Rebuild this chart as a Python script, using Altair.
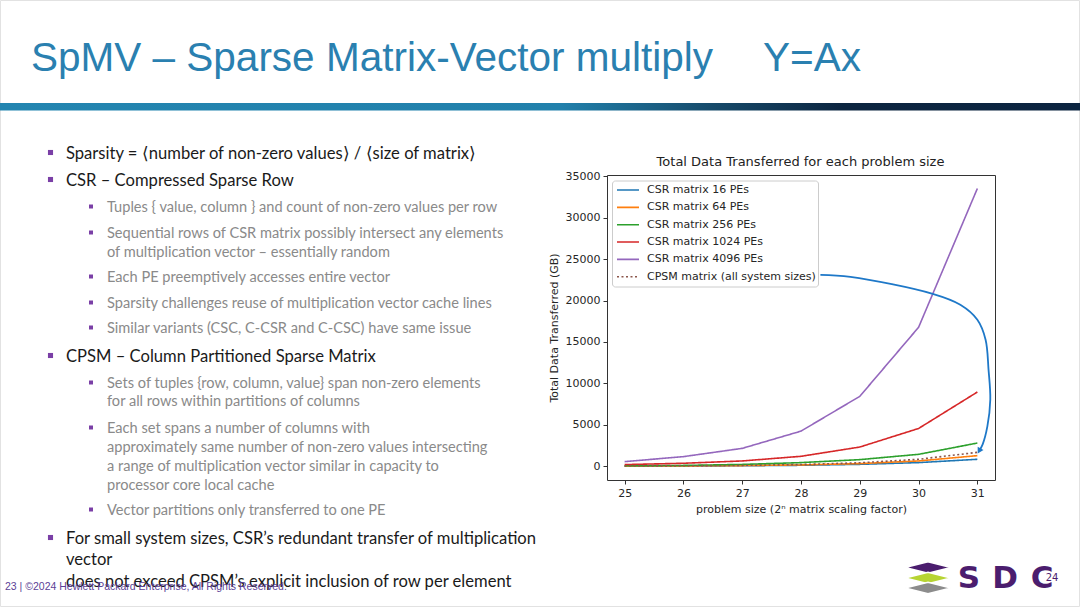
import altair as alt
import pandas as pd

# ---------------- data ----------------
problem_size = [25, 26, 27, 28, 29, 30, 31]
csr_16 = [15, 30, 60, 115, 230, 440, 840]
csr_64 = [20, 40, 80, 160, 320, 640, 1280]
csr_256 = [50, 100, 220, 440, 800, 1440, 2800]
csr_1024 = [200, 360, 640, 1200, 2320, 4560, 8960]
csr_4096 = [560, 1160, 2160, 4240, 8440, 16770, 33530]
cpsm = [27, 55, 105, 210, 420, 840, 1680]

series_names = ["CSR matrix 16 PEs", "CSR matrix 64 PEs", "CSR matrix 256 PEs",
                "CSR matrix 1024 PEs", "CSR matrix 4096 PEs", "CPSM matrix (all system sizes)"]
series_values = [csr_16, csr_64, csr_256, csr_1024, csr_4096, cpsm]
series_colors = ["#1f77b4", "#ff7f0e", "#2ca02c", "#d62728", "#9467bd", "#8c564b"]
series_dash = [[1, 0], [1, 0], [1, 0], [1, 0], [1, 0], [2, 2.5]]

y_ticks = [0, 5000, 10000, 15000, 20000, 25000, 30000, 35000]

# annotation arrow drawn on the slide (in data units)
arrow_x = [28.33, 28.84, 30.24, 30.71, 31.00, 31.14, 31.19, 31.22, 31.17, 31.09, 31.03]
arrow_y = [23100, 22860, 20810, 19490, 17680, 15280, 11670, 8060, 4810, 2650, 1850]

slide_title = "SpMV – Sparse Matrix-Vector multiply"
slide_title2 = "Y=Ax"
chart_title = "Total Data Transferred for each problem size"
x_title = "problem size (2ⁿ matrix scaling factor)"
y_title = "Total Data Transferred (GB)"
footer = "23 | ©2024 Hewlett Packard Enterprise, All Rights Reserved."

body_lines = [
    "Sparsity = ⟨number of non-zero values⟩ / ⟨size of matrix⟩",
    "CSR – Compressed Sparse Row",
    "Tuples { value, column } and count of non-zero values per row",
    "Sequential rows of CSR matrix possibly intersect any elements",
    "of multiplication vector – essentially random",
    "Each PE preemptively accesses entire vector",
    "Sparsity challenges reuse of multiplication vector cache lines",
    "Similar variants (CSC, C-CSR and C-CSC) have same issue",
    "CPSM – Column Partitioned Sparse Matrix",
    "Sets of tuples {row, column, value} span non-zero elements",
    "for all rows within partitions of columns",
    "Each set spans a number of columns with",
    "approximately same number of non-zero values intersecting",
    "a range of multiplication vector similar in capacity to",
    "processor core local cache",
    "Vector partitions only transferred to one PE",
    "For small system sizes, CSR’s redundant transfer of multiplication",
    "vector",
    "does not exceed CPSM’s explicit inclusion of row per element",
]
body_level = [1, 1, 2, 2, 2, 2, 2, 2, 1, 2, 2, 2, 2, 2, 2, 2, 1, 1, 1]
body_bullet = [1, 1, 1, 1, 0, 1, 1, 1, 1, 1, 0, 1, 0, 0, 0, 1, 1, 0, 0]

# ---------------- layout (page pixels) ----------------
PL, PT, PW, PH = 607, 175, 388, 305          # matplotlib axes frame on the page
body_y = [154, 181, 208, 234, 253, 278, 304, 329, 357, 384, 402, 429, 448, 467, 486, 511, 539, 560, 582]
text_x = {1: 66, 2: 107}
bullet_x = {1: 50.5, 2: 91}
legend_row_y0, legend_row_dy = 190, 17.35


def rel(df):
    df = df.copy()
    for c in ("x", "x2"):
        if c in df:
            df[c] = df[c] - PL
    for c in ("y", "y2"):
        if c in df:
            df[c] = df[c] - PT
    return df


def px(field):
    return alt.X(f"{field}:Q", scale=None, axis=None)


def py(field):
    return alt.Y(f"{field}:Q", scale=None, axis=None)


def text_layer(df, font, size, color, weight="normal", align="left", baseline="middle"):
    return alt.Chart(rel(df)).mark_text(
        font=font, fontSize=size, color=color, fontWeight=weight, align=align, baseline=baseline
    ).encode(x=px("x"), y=py("y"), text="text:N")


# ---------------- main chart ----------------
rows = []
for name, vals in zip(series_names, series_values):
    for p, v in zip(problem_size, vals):
        rows.append({"series": name, "problem_size": p, "value": v})
lines_df = pd.DataFrame(rows)

x_enc = alt.X("problem_size:Q",
              scale=alt.Scale(domain=[24.7, 31.3], nice=False, zero=False),
              axis=alt.Axis(values=problem_size, format="d", title=x_title, grid=False, domain=False,
                            tickSize=4, tickColor="#333", labelPadding=3, labelFont="DejaVu Sans",
                            labelFontSize=11, labelColor="#262626", titleFont="DejaVu Sans",
                            titleFontSize=11, titleFontWeight="normal", titleColor="#262626",
                            titlePadding=5))
y_enc = alt.Y("value:Q",
              scale=alt.Scale(domain=[-1660, 35160], nice=False, zero=False),
              axis=alt.Axis(values=y_ticks, format="d", title=y_title, grid=False, domain=False,
                            tickSize=4, tickColor="#333", labelPadding=3, labelFont="DejaVu Sans",
                            labelFontSize=11, labelColor="#262626", titleFont="DejaVu Sans",
                            titleFontSize=11, titleFontWeight="normal", titleColor="#262626",
                            titlePadding=6))
color_scale = alt.Scale(domain=series_names, range=series_colors)
dash_scale = alt.Scale(domain=series_names, range=series_dash)

lines = alt.Chart(lines_df).mark_line(strokeWidth=1.6).encode(
    x=x_enc, y=y_enc,
    color=alt.Color("series:N", scale=color_scale, legend=None),
    strokeDash=alt.StrokeDash("series:N", scale=dash_scale, legend=None),
    detail="series:N",
)

# legend (drawn by hand to mimic matplotlib's box)
leg_box = alt.Chart(rel(pd.DataFrame([{"x": 612.5, "x2": 818.5, "y": 181, "y2": 287}]))).mark_rect(
    fill="white", fillOpacity=0.85, stroke="#cccccc", strokeWidth=1, cornerRadius=3
).encode(x=px("x"), x2="x2:Q", y=py("y"), y2="y2:Q")
leg_df = pd.DataFrame({"series": series_names,
                       "x": [617] * 6, "x2": [639] * 6,
                       "y": [legend_row_y0 + i * legend_row_dy for i in range(6)]})
leg_df["text"] = leg_df["series"]
leg_sw = alt.Chart(rel(leg_df)).mark_rule(strokeWidth=1.6).encode(
    x=px("x"), x2="x2:Q", y=py("y"),
    color=alt.Color("series:N", scale=color_scale, legend=None),
    strokeDash=alt.StrokeDash("series:N", scale=dash_scale, legend=None),
)
leg_lab = text_layer(leg_df.assign(x=647), "DejaVu Sans", 11, "#262626")

arrow_df = pd.DataFrame({"problem_size": arrow_x, "value": arrow_y, "i": range(len(arrow_x))})
arrow = alt.Chart(arrow_df).mark_line(color="#1e78c8", strokeWidth=1.8, interpolate="catmull-rom").encode(
    x=x_enc, y=y_enc, order="i:Q")
arrow_head = alt.Chart(arrow_df.tail(1)).mark_point(
    shape="triangle-down", filled=True, color="#1e78c8", size=45, angle=30, opacity=1
).encode(x=x_enc, y=y_enc)

ctitle = text_layer(pd.DataFrame([{"text": chart_title, "x": 800.5, "y": 162}]),
                    "DejaVu Sans", 13, "#222222", align="center")

# ---------------- slide decoration ----------------
frame = alt.Chart(rel(pd.DataFrame([{"x": 0.5, "x2": 1079.5, "y": 0.5, "y2": 606.5}]))).mark_rect(
    fill="white", fillOpacity=0, stroke="#e2e2e2", strokeWidth=1
).encode(x=px("x"), x2="x2:Q", y=py("y"), y2="y2:Q")

bar = alt.Chart(rel(pd.DataFrame([{"x": 0, "x2": 1080, "y": 103, "y2": 110.5}]))).mark_rect(
    fill=alt.Gradient(gradient="linear", x1=0, x2=1, y1=0, y2=0,
                      stops=[alt.GradientStop(color="#2385b0", offset=0),
                             alt.GradientStop(color="#2180ab", offset=0.52),
                             alt.GradientStop(color="#164a6a", offset=0.66),
                             alt.GradientStop(color="#0c2540", offset=0.78),
                             alt.GradientStop(color="#0b2440", offset=1)])
).encode(x=px("x"), x2="x2:Q", y=py("y"), y2="y2:Q")

title_l = text_layer(pd.DataFrame([{"text": slide_title, "x": 31, "y": 71},
                                   {"text": slide_title2, "x": 763, "y": 71}]),
                     "Liberation Sans", 40.5, "#2a80b0", baseline="alphabetic")

body_df = pd.DataFrame({"text": body_lines, "level": body_level, "bullet": body_bullet, "y": body_y})
body_df["x"] = body_df["level"].map(text_x)
l1 = text_layer(body_df[body_df.level == 1], "Lato", 16.6, "#1a1a1a")
l2 = text_layer(body_df[body_df.level == 2], "Lato", 14.6, "#8a8a8a")

bul = body_df[body_df.bullet == 1].copy()
bul["x"] = bul["level"].map(bullet_x)
bul["y"] = bul["y"] - 1.5
b1 = alt.Chart(rel(bul[bul.level == 1])).mark_point(shape="square", filled=True, size=26,
                                                     color="#7a3fa6", opacity=1).encode(x=px("x"), y=py("y"))
b2 = alt.Chart(rel(bul[bul.level == 2])).mark_point(shape="square", filled=True, size=16,
                                                     color="#7a3fa6", opacity=1).encode(x=px("x"), y=py("y"))

foot = text_layer(pd.DataFrame([{"text": footer, "x": 5, "y": 587}]), "Liberation Sans", 10.5, "#5b3f96")

# logo
rhombus = "M-1,0L0,-0.25L1,0L0,0.25Z"
logo_df = pd.DataFrame({"x": [928, 928, 928], "y": [588, 578, 567.5], "k": ["c", "b", "a"],
                        "col": ["#8c8c8c", "#b7d433", "#4b1d6e"]})
logo_sh = alt.Chart(rel(logo_df)).mark_point(shape=rhombus, filled=True, size=2100, opacity=1,
                                             stroke="white", strokeWidth=1.5).encode(
    x=px("x"), y=py("y"), fill=alt.Fill("col:N", scale=None), order="k:N")
logo_txt = text_layer(pd.DataFrame({"text": ["S", "D", "C"], "x": [969, 1005, 1042], "y": [588, 588, 588]}),
                      "DejaVu Sans", 31, "#4b1d6e", weight="bold", align="center", baseline="alphabetic")
logo_24 = text_layer(pd.DataFrame([{"text": "24", "x": 1052, "y": 578}]),
                     "DejaVu Sans", 10, "#4b1d6e", align="center")

chart = alt.layer(
    frame, bar, title_l, b1, b2, l1, l2, foot, logo_sh, logo_txt, logo_24,
    lines, leg_box, leg_sw, leg_lab, arrow, arrow_head, ctitle,
).properties(
    width=PW, height=PH,
    autosize=alt.AutoSizeParams(type="none"),
    padding={"left": PL, "top": PT, "right": 1080 - PL - PW, "bottom": 607 - PT - PH},
    background="white",
).configure_view(stroke="#333333", strokeWidth=1)

chart.save("out.html", embed_options={"renderer": "svg", "actions": False})
